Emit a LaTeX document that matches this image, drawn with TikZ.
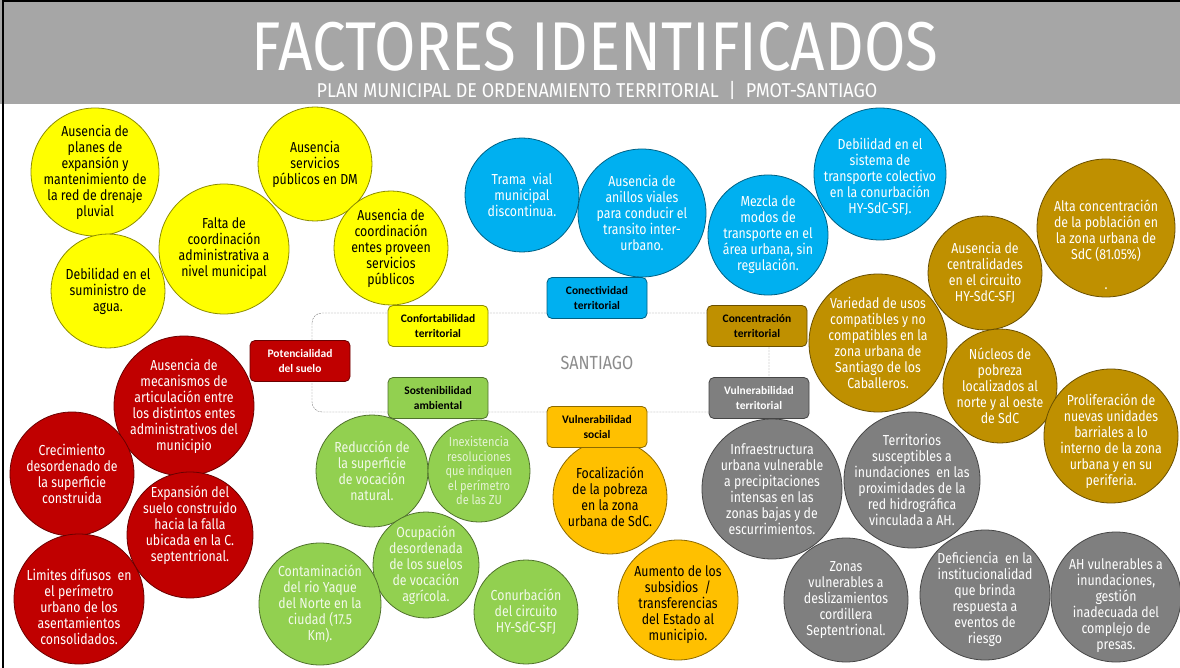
\documentclass[tikz,border=0pt]{standalone}
\usepackage{fontspec}
\setmainfont{Fira Sans}[FakeStretch=0.85]
\newfontfamily\boxfont{Carlito}
\newfontfamily\titlefont{Fira Sans}[FakeStretch=0.87]
\newfontfamily\subfont{Fira Sans}[FakeStretch=0.9]

\definecolor{yel}{RGB}{255,255,0}
\definecolor{blu}{RGB}{0,176,240}
\definecolor{gld}{RGB}{191,144,0}
\definecolor{rd}{RGB}{192,0,0}
\definecolor{grn}{RGB}{146,208,80}
\definecolor{org}{RGB}{255,192,0}
\definecolor{gry}{RGB}{127,127,127}
\definecolor{bar}{RGB}{166,166,166}

\tikzset{
  factor/.style={circle, fill=#1, draw=#1!55!black, thick, inner sep=0pt},
  ftext/.style={align=center, font=\fontsize{14.5}{16}\selectfont, text=#1},
  eje/.style={rectangle, rounded corners=5pt, fill=#1, draw=#1!55!black, thick,
    minimum width=100, minimum height=41, align=center,
    font=\boxfont\bfseries\fontsize{11.5}{15}\selectfont},
}

\begin{document}
\begin{tikzpicture}[x=1pt, y=-1pt]
\useasboundingbox (0,0) rectangle (1180,668);
\fill[white] (0,0) rectangle (1180,668);

% title bar
\fill[bar] (0,0) rectangle (1180,104);
\draw[line width=2pt] (3,668) -- (3,1) -- (1180,1);
\node[inner sep=0pt, font=\titlefont\fontsize{69}{69}\selectfont, text=white] (titulo) at (595,47) {FACTORES IDENTIFICADOS};
\node[inner sep=0pt, font=\subfont\fontsize{20}{20}\selectfont, text=white] (subtitulo) at (597,90) {PLAN MUNICIPAL DE ORDENAMIENTO TERRITORIAL\enspace|\enspace PMOT-SANTIAGO};

% central frame
\draw[gray, dash pattern=on 2pt off 1pt, rounded corners=10pt] (312,313) rectangle (769,412);
\node[text=gray!90, font=\fontsize{19}{19}\selectfont] (santiago) at (597,363) {SANTIAGO};

% confortabilidad territorial
\node[factor=yel, minimum size=128, label={[ftext=black]center:Ausencia de\\planes de\\expansión y\\mantenimiento de\\la red de drenaje\\pluvial}] (y1) at (95,172) {};
\node[factor=yel, minimum size=114, label={[ftext=black]center:Debilidad en el\\suministro de\\agua.}] (y2) at (108,291) {};
\node[factor=yel, minimum size=130, label={[ftext=black]center:Falta de\\coordinación\\administrativa a\\nivel municipal}] (y3) at (224,249) {};
\node[factor=yel, minimum size=114, label={[ftext=black]center:Ausencia\\servicios\\públicos en DM}] (y4) at (315,164) {};
\node[factor=yel, minimum size=114, label={[ftext=black]center:Ausencia de\\coordinación\\entes proveen\\servicios\\públicos}] (y5) at (391,248) {};

% conectividad territorial
\node[factor=blu, minimum size=114, label={[ftext=white]center:Trama\ \ vial\\municipal\\discontinua.}] (b1) at (522,195) {};
\node[factor=blu, minimum size=128, label={[ftext=white]center:Ausencia de\\anillos viales\\para conducir el\\transito inter-\\urbano.}] (b2) at (642,213) {};
\node[factor=blu, minimum size=120, label={[ftext=white]center:Mezcla de\\modos de\\transporte en el\\área urbana, sin\\regulación.}] (b3) at (768,235) {};
\node[factor=blu, minimum size=132, label={[ftext=white, yshift=-3]center:Debilidad en el\\sistema de\\transporte colectivo\\en la conurbación\\HY-SdC-SFJ.}] (b4) at (880,174) {};

% concentracion territorial
\node[factor=gld, minimum size=138, label={[ftext=white, yshift=-17]center:Alta concentración\\de la población en\\la zona urbana de\\SdC (81.05\%)\\[14pt].}] (g1) at (1106,228) {};
\node[factor=gld, minimum size=114, label={[ftext=white]center:Ausencia de\\centralidades\\en el circuito\\HY-SdC-SFJ}] (g2) at (985,273) {};
\node[factor=gld, minimum size=138, label={[ftext=white]center:Variedad de usos\\compatibles y no\\compatibles en la\\zona urbana de\\Santiago de los\\Caballeros.}] (g3) at (878,343) {};
\node[factor=gld, minimum size=114, label={[ftext=white]center:Núcleos de\\pobreza\\localizados al\\norte y al oeste\\de SdC}] (g4) at (1000,386) {};
\node[factor=gld, minimum size=134, label={[ftext=white, yshift=-5]center:Proliferación de\\nuevas unidades\\barriales a lo\\interno de la zona\\urbana y en su\\periferia.}] (g5) at (1111,436) {};

% potencialidad del suelo
\node[factor=rd, minimum size=140, label={[ftext=white]center:Ausencia de\\mecanismos de\\articulación entre\\los distintos entes\\administrativos del\\municipio}] (r1) at (184,406) {};
\node[factor=rd, minimum size=124, label={[ftext=white]center:Crecimiento\\desordenado de\\la superficie\\construida}] (r2) at (72,474) {};
\node[factor=rd, minimum size=126, label={[ftext=white, yshift=10]center:Expansión del\\suelo construido\\hacia la falla\\ubicada en la C.\\septentrional.}] (r3) at (190,535) {};
\node[factor=rd, minimum size=130, label={[ftext=white, yshift=-8]center:Limites difusos\ \ en\\el perímetro\\urbano de los\\asentamientos\\consolidados.}] (r4) at (79,599) {};

% sostenibilidad ambiental
\node[factor=grn, minimum size=112, label={[ftext=white!88!grn]center:Reducción de\\la superficie\\de vocación\\natural.}] (e1) at (372,471) {};
\node[factor=grn, minimum size=102, label={[ftext=white!75!grn, font=\fontsize{13}{14.5}\selectfont]center:Inexistencia\\resoluciones\\que indiquen\\el perímetro\\de las ZU}] (e2) at (479,471) {};
\node[factor=grn, minimum size=106, label={[ftext=white!88!grn]center:Ocupación\\desordenada\\de los suelos\\de vocación\\agrícola.}] (e3) at (426,565) {};
\node[factor=grn, minimum size=122, label={[ftext=white!88!grn]center:Contaminación\\del rio Yaque\\del Norte en la\\ciudad (17.5\\Km).}] (e4) at (320,604) {};
\node[factor=grn, minimum size=104, label={[ftext=white!88!grn]center:Conurbación\\del circuito\\HY-SdC-SFJ}] (e5) at (526,612) {};

% vulnerabilidad social
\node[factor=org, minimum size=114, label={[ftext=black]center:Focalización\\de la pobreza\\en la zona\\urbana de SdC.}] (o1) at (610,497) {};
\node[factor=org, minimum size=120, label={[ftext=black, yshift=-5]center:Aumento de los\\subsidios\ \ /\\transferencias\\del Estado al\\municipio.}] (o2) at (678,600) {};

% vulnerabilidad territorial
\node[factor=gry, minimum size=140, label={[ftext=white]center:Infraestructura\\urbana vulnerable\\a precipitaciones\\intensas en las\\zonas bajas y de\\escurrimientos.}] (v1) at (772,489) {};
\node[factor=gry, minimum size=136, label={[ftext=white]center:Territorios\\susceptibles a\\inundaciones\ \ en las\\proximidades de la\\red hidrográfica\\vinculada a AH.}] (v2) at (912,480) {};
\node[factor=gry, minimum size=124, label={[ftext=white]center:Zonas\\vulnerables a\\deslizamientos\\cordillera\\Septentrional.}] (v3) at (846,600) {};
\node[factor=gry, minimum size=130, label={[ftext=white, yshift=-4]center:Deficiencia\ \ en la\\institucionalidad\\que brinda\\respuesta a\\eventos de\\riesgo}] (v4) at (985,595) {};
\node[factor=gry, minimum size=130, label={[ftext=white, yshift=-9]center:AH vulnerables a\\inundaciones,\\gestión\\inadecuada del\\complejo de\\presas.}] (v5) at (1116,597) {};

% ejes
\node[eje=yel] (confort) at (438,326) {Confortabilidad\\territorial};
\node[eje=blu] (conect) at (597,298) {Conectividad\\territorial};
\node[eje=gld] (concen) at (757,326) {Concentración\\territorial};
\node[eje=rd, text=white] (potenc) at (300,361) {Potencialidad\\del suelo};
\node[eje=grn] (sosten) at (438,398) {Sostenibilidad\\ambiental};
\node[eje=org] (vsocial) at (597,427) {Vulnerabilidad\\social};
\node[eje=gry, text=white] (vterrit) at (759,398) {Vulnerabilidad\\territorial};
\end{tikzpicture}
\end{document}
